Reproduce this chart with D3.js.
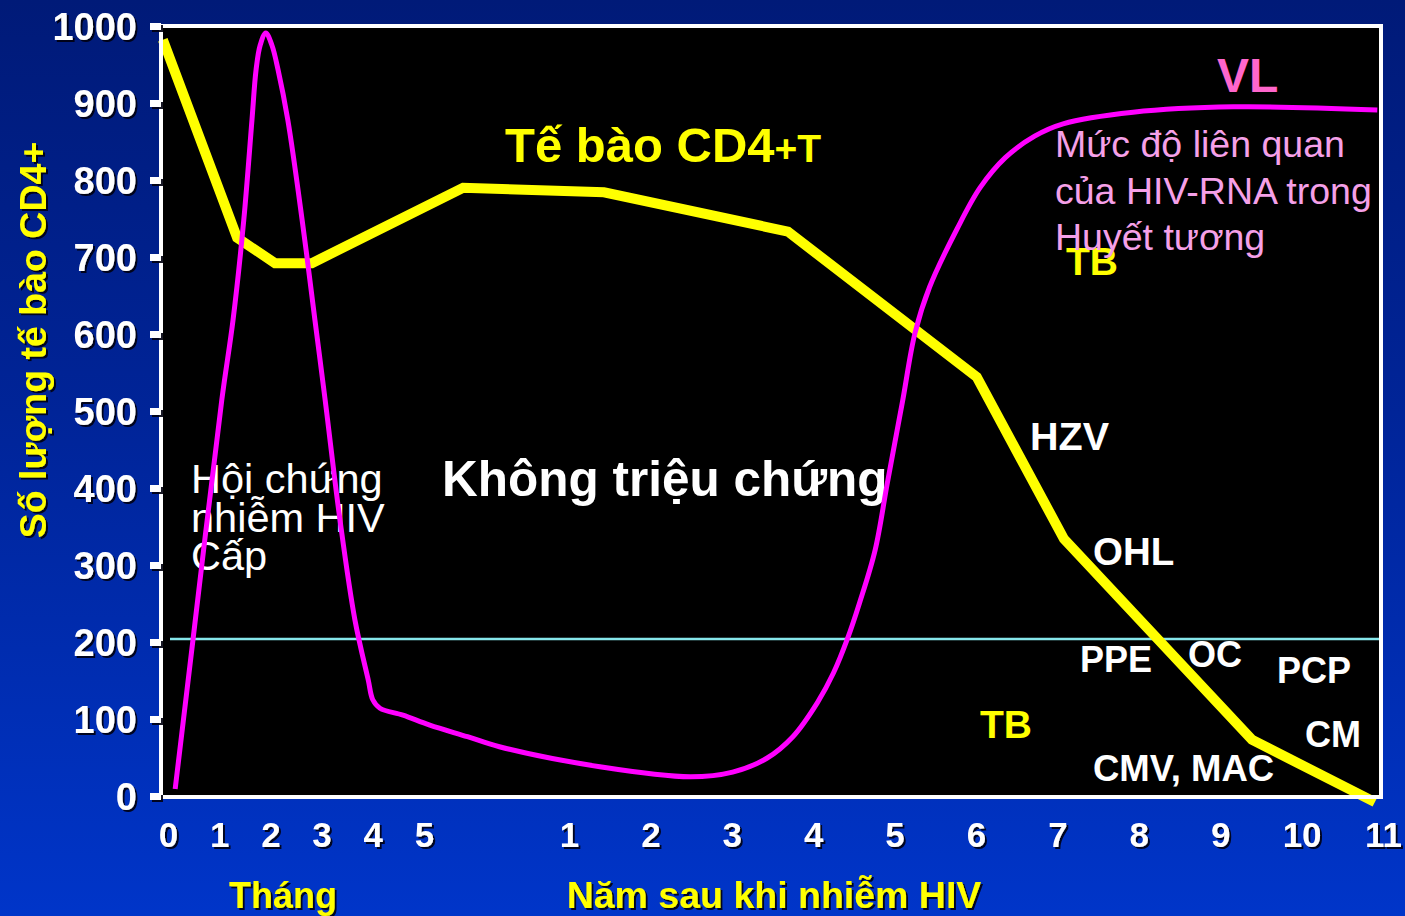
<!DOCTYPE html>
<html><head><meta charset="utf-8">
<script src="https://cdn.jsdelivr.net/npm/d3@7"></script>
<style>
html,body{margin:0;padding:0;background:#0028a0;overflow:hidden}
svg{display:block}
</style></head>
<body>
<svg id="chart" width="1405" height="916"></svg>
<script>
// ---- data ----
const monthTicks = [0, 1, 2, 3, 4, 5];
const yearTicks = [1, 2, 3, 4, 5, 6, 7, 8, 9, 10, 11];
const yTicks = [0, 100, 200, 300, 400, 500, 600, 700, 800, 900, 1000];
// time axis: months 0..5, then years after infection placed at 5 + year
const cd4Time = [-0.1, 1.35, 2.09, 2.81, 5.27, 6.43, 8.69, 11.01, 12.08, 14.39, 15.9];
const cd4Count = [982, 725, 692, 692, 790, 784, 733, 544, 334, 73, -8];
const vlTime = [0.14, 0.49, 1.05, 1.27, 1.48, 1.64, 1.72, 1.80, 1.91, 2.03, 2.15, 2.34, 2.62, 2.87, 3.07,
  3.36, 3.65, 3.91, 4.00, 4.14, 4.59, 5.04, 5.30, 5.52, 6.38, 7.49, 8.01, 8.43, 8.75, 9.05, 9.25, 9.42,
  9.57, 9.76, 9.91, 10.10, 10.25, 10.43, 10.77, 11.05, 11.36, 11.72, 12.07, 12.93, 14.16, 15.93];
const vlLevel = [9, 204, 514, 618, 748, 878, 943, 975, 991, 975, 943, 878, 748, 618, 514,
  358, 229, 151, 125, 114, 105, 92, 77, 64, 38, 25, 31, 49, 77, 121, 160, 204,
  251, 319, 406, 514, 601, 661, 737, 790, 829, 857, 873, 888, 895, 891];
const threshold = 204;

const yearToTime = yr => 5 + yr;

// ---- setup ----
const svg = d3.select('#chart');
const FONT = '"Liberation Sans", Arial, Helvetica, sans-serif';
const defs = svg.append('defs');
const grad = defs.append('linearGradient').attr('id', 'bg').attr('x1', 0).attr('y1', 0).attr('x2', 0).attr('y2', 1);
grad.append('stop').attr('offset', '0%').attr('stop-color', '#001a78');
grad.append('stop').attr('offset', '45%').attr('stop-color', '#002498');
grad.append('stop').attr('offset', '100%').attr('stop-color', '#0035c9');
const f = defs.append('filter').attr('id', 'shadow').attr('x', '-10%').attr('y', '-10%').attr('width', '130%').attr('height', '130%');
f.append('feDropShadow').attr('dx', 2).attr('dy', 2).attr('stdDeviation', 0.6)
  .attr('flood-color', '#000010').attr('flood-opacity', 0.9);

svg.append('rect').attr('width', 1405).attr('height', 916).attr('fill', 'url(#bg)');

const x = d3.scaleLinear().domain([0, 5, 6, 16]).range([168, 424, 569, 1383]);
const y = d3.scaleLinear().domain([0, 1000]).range([796, 26]);
const plotLeft = 161, plotRight = 1381;

// plot area
svg.append('rect')
  .attr('x', plotLeft).attr('y', y(1000))
  .attr('width', plotRight - plotLeft).attr('height', y(0) - y(1000) + 1)
  .attr('fill', '#000');

// 200 threshold line
svg.append('line')
  .attr('x1', 170).attr('x2', plotRight)
  .attr('y1', y(threshold)).attr('y2', y(threshold))
  .attr('stroke', '#86e6ea').attr('stroke-width', 2.5);

// ---- in-plot annotations ----
const ann = svg.append('g').attr('font-family', FONT);
function label(txt, px, py, size, weight, color) {
  return ann.append('text').attr('x', px).attr('y', py)
    .attr('font-size', size).attr('font-weight', weight).attr('fill', color).text(txt);
}
const title = ann.append('text').attr('x', 505).attr('y', 162).attr('font-weight', 'bold').attr('fill', '#ffff00');
title.append('tspan').attr('font-size', 49).text('Tế bào CD4');
title.append('tspan').attr('font-size', 39).text('+T');

label('Không triệu chứng', 442, 496, 49.5, 'bold', '#ffffff');
['Hội chứng', 'nhiễm HIV', 'Cấp'].forEach((t, i) => label(t, 191, 493 + i * 38.7, 41.5, 'normal', '#ffffff'));
label('VL', 1217, 92, 48, 'bold', '#ff66cc');
label('TB', 1066, 275, 39, 'bold', '#ffff00');
['Mức độ liên quan', 'của HIV-RNA trong', 'Huyết tương'].forEach((t, i) => label(t, 1055, 157 + i * 46.5, 37.5, 'normal', '#f5a0e8'));
label('HZV', 1030, 450, 39.5, 'bold', '#ffffff');
label('OHL', 1093, 565, 38.5, 'bold', '#ffffff');
label('PPE', 1080, 672, 36, 'bold', '#ffffff');
label('OC', 1188, 667, 36, 'bold', '#ffffff');
label('PCP', 1277, 683, 36, 'bold', '#ffffff');
label('TB', 980, 738, 39, 'bold', '#ffff00');
label('CM', 1305, 747, 36, 'bold', '#ffffff');
label('CMV, MAC', 1093, 781, 36.5, 'bold', '#ffffff');

// ---- curves ----
const cd4 = cd4Time.map((t, i) => [t, cd4Count[i]]);
const vl = vlTime.map((t, i) => [t, vlLevel[i]]);

svg.append('path')
  .attr('d', d3.line().x(d => x(d[0])).y(d => y(d[1]))(cd4))
  .attr('fill', 'none').attr('stroke', '#ffff00').attr('stroke-width', 10)
  .attr('stroke-linejoin', 'miter').attr('stroke-linecap', 'butt');

svg.append('path')
  .attr('d', d3.line().curve(d3.curveCatmullRom.alpha(0.5)).x(d => x(d[0])).y(d => y(d[1]))(vl))
  .attr('fill', 'none').attr('stroke', '#ff00ff').attr('stroke-width', 5);

// plot border
svg.append('rect')
  .attr('x', plotLeft).attr('y', y(1000))
  .attr('width', plotRight - plotLeft).attr('height', y(0) - y(1000) + 1)
  .attr('fill', 'none').attr('stroke', '#ffffff').attr('stroke-width', 4);

// ---- axes ----
const outer = svg.append('g').attr('filter', 'url(#shadow)');

const yAxis = outer.append('g').attr('transform', `translate(${plotLeft},0)`)
  .call(d3.axisLeft(y).tickValues(yTicks).tickSize(11).tickPadding(13).tickFormat(d3.format('d')));
yAxis.select('.domain').remove();
yAxis.selectAll('.tick line').attr('stroke', '#ffffff').attr('stroke-width', 7);
yAxis.selectAll('.tick text').attr('font-family', FONT).attr('font-size', 38).attr('font-weight', 'bold')
  .attr('fill', '#ffffff').attr('dy', '0.36em');

const mAxis = outer.append('g').attr('transform', `translate(0,${y(0)})`)
  .call(d3.axisBottom(x).tickValues(monthTicks).tickSize(0).tickPadding(26).tickFormat(d => d));
const yrAxis = outer.append('g').attr('transform', `translate(0,${y(0)})`)
  .call(d3.axisBottom(x).tickValues(yearTicks.map(yearToTime)).tickSize(0).tickPadding(26)
    .tickFormat((d, i) => yearTicks[i]));
[mAxis, yrAxis].forEach(a => {
  a.select('.domain').remove();
  a.selectAll('.tick text').attr('font-family', FONT).attr('font-size', 35).attr('font-weight', 'bold').attr('fill', '#ffffff');
});

outer.append('text').attr('x', 283).attr('y', 908).attr('text-anchor', 'middle')
  .attr('font-family', FONT).attr('font-size', 36).attr('font-weight', 'bold').attr('fill', '#ffff00').text('Tháng');
outer.append('text').attr('x', 774).attr('y', 908).attr('text-anchor', 'middle')
  .attr('font-family', FONT).attr('font-size', 37.5).attr('font-weight', 'bold').attr('fill', '#ffff00').text('Năm sau khi nhiễm HIV');
outer.append('text').attr('transform', 'translate(46,340) rotate(-90)').attr('text-anchor', 'middle')
  .attr('font-family', FONT).attr('font-size', 37.5).attr('font-weight', 'bold').attr('fill', '#ffff00').text('Số lượng tế bào CD4+');
</script>
</body></html>
